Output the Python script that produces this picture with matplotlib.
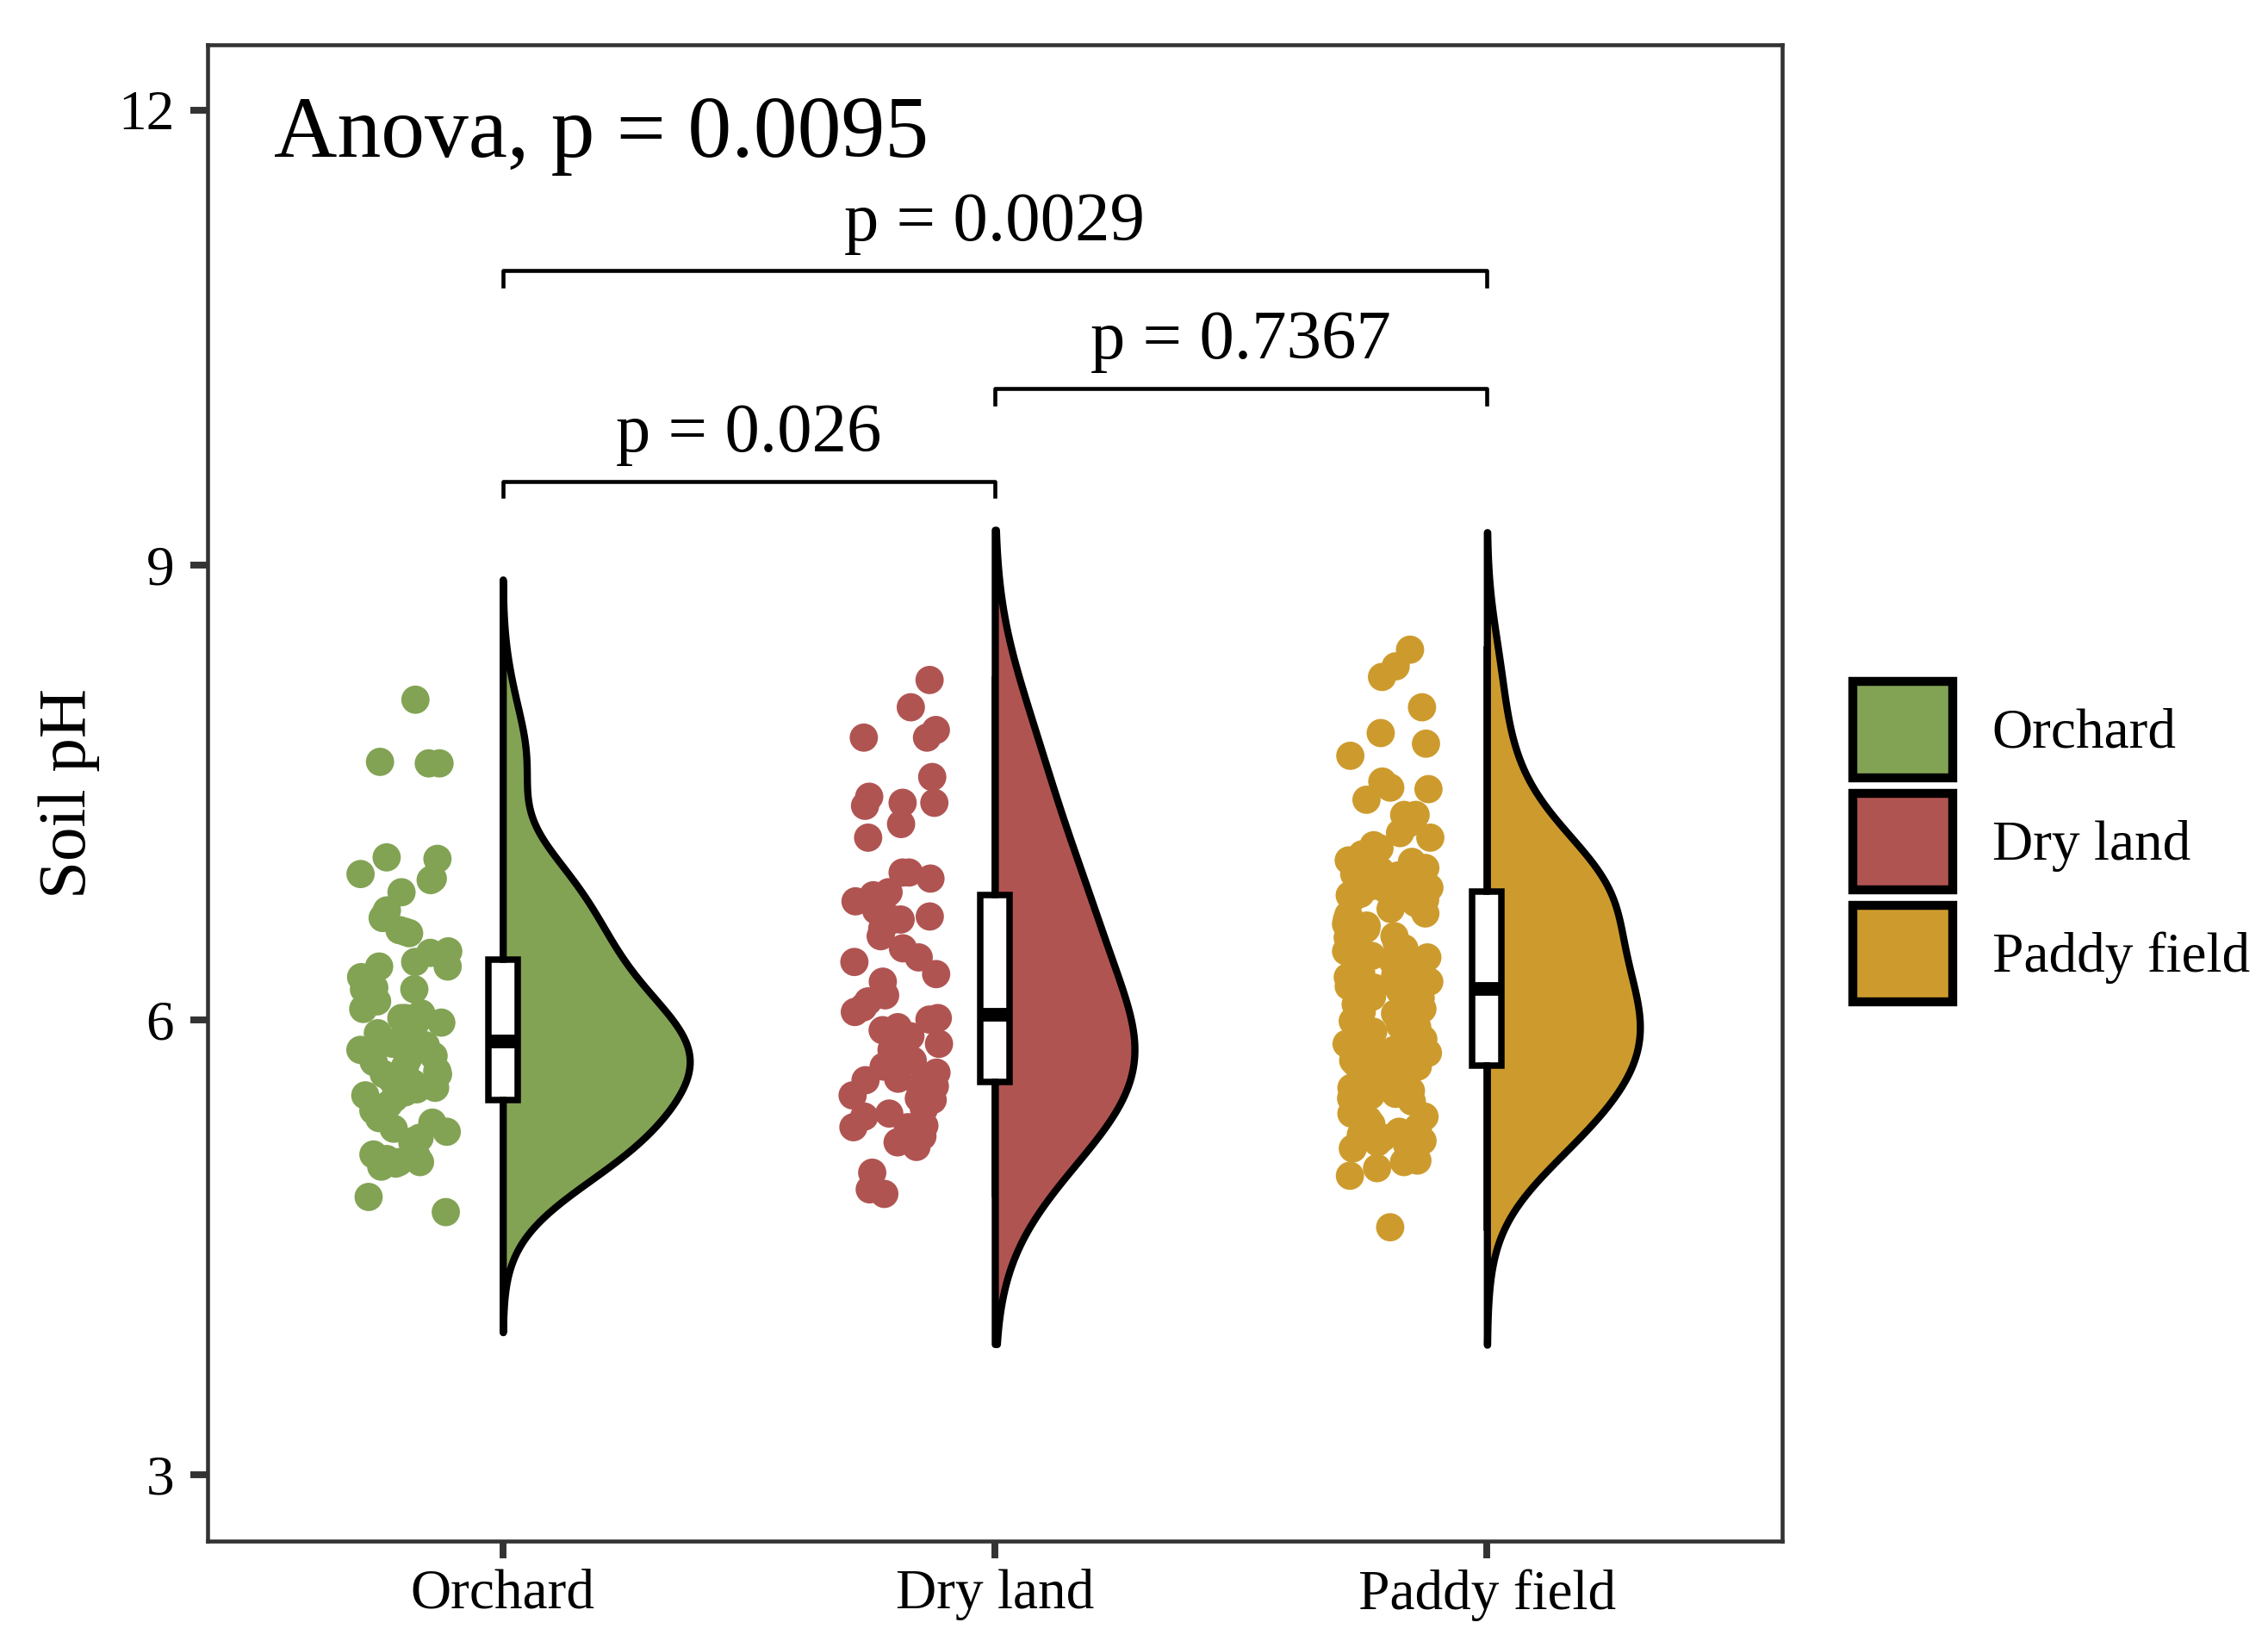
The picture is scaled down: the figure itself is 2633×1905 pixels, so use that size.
import matplotlib.pyplot as plt
import numpy as np
from matplotlib.patches import Patch

plt.rcParams['font.family'] = ['Liberation Serif', 'DejaVu Serif']

groups = ["Orchard", "Dry land", "Paddy field"]
colors = ["#82A354", "#B05452", "#CD9B2D"]

orchard_ph = [8.11, 7.69, 7.69, 7.70, 7.07, 7.06, 6.96, 6.93, 6.92, 6.84, 6.72, 6.69,
              6.67, 6.59, 6.58, 6.57, 6.45, 6.44,
              6.38, 6.35, 6.35, 6.21, 6.20, 6.20, 6.07, 6.01, 6.01, 5.98, 5.98, 5.94,
              5.88, 5.87, 6.28, 6.12, 6.04, 5.91,
              5.84, 5.80, 5.76, 5.72, 5.64, 5.64, 5.52, 5.55, 5.54, 5.83, 5.78, 5.74,
              5.69, 5.66, 5.60, 5.58, 5.50, 5.48,
              5.44, 5.40, 5.32, 5.28, 5.26, 5.19, 5.20, 5.10, 5.06, 5.11, 5.06, 5.03,
              5.05, 4.83, 4.73, 5.35, 5.22, 5.08]

dryland_ph = [8.24, 8.06, 7.86, 7.86, 7.91, 7.60, 7.43, 7.41, 7.47, 7.43, 7.29, 7.20,
              6.93, 6.97, 6.97, 6.82, 6.84, 6.82, 6.78, 6.68, 6.66, 6.66, 6.55,
              6.41, 6.38, 6.16, 6.05, 6.08, 6.01, 5.89, 5.90, 5.87, 6.00, 5.93, 5.72,
              5.73, 5.69, 5.61, 5.56, 5.47, 5.60, 5.56, 5.50, 5.48, 5.41, 5.36, 5.38,
              5.30, 5.29, 5.29, 5.23, 5.19, 5.16, 4.99, 4.88, 4.85,
              6.12, 6.25, 6.30, 6.47, 6.60, 6.72,
              5.65, 5.80, 5.84, 5.95, 5.76, 5.63]

paddy_ph = [8.44, 8.33, 8.26, 8.06, 7.89, 7.82, 7.74, 7.57, 7.53, 7.52, 7.45, 7.35,
            7.35, 7.29, 7.23, 7.20, 7.15, 7.13, 7.09,
            7.05, 7.02, 7.00, 6.98, 6.96, 6.95, 6.93, 6.91, 6.90, 6.88, 6.87, 6.86,
            6.85, 6.84, 6.83, 6.82, 6.98, 7.04, 6.90, 6.87,
            6.81, 6.79, 6.77, 6.74, 6.73, 6.70, 6.69, 6.66, 6.63, 6.62, 6.60, 6.57,
            6.55, 6.54, 6.51, 6.48, 6.47, 6.45, 6.42, 6.41, 6.39, 6.37, 6.34, 6.33,
            6.31, 6.29, 6.28, 6.26, 6.25, 6.23, 6.22, 6.21, 6.20, 6.20, 6.19,
            6.17, 6.15, 6.14, 6.12, 6.10, 6.09, 6.07, 6.05, 6.04, 6.02, 6.01, 5.99,
            5.98, 5.96, 5.95, 5.93, 5.92, 5.90, 5.88, 5.87, 5.85, 5.84, 5.82, 5.81,
            5.80, 5.78, 5.77, 5.76, 5.75, 5.74, 5.73, 5.72, 5.71, 5.70, 5.69,
            5.67, 5.65, 5.64, 5.62, 5.60, 5.58, 5.57, 5.55, 5.53, 5.51, 5.50, 5.48,
            5.46, 5.44, 5.42, 5.40, 5.38, 5.36, 5.34, 5.31, 5.29, 5.26, 5.24, 5.22,
            5.20, 5.19, 5.17, 5.15, 5.12, 5.10, 5.07, 5.06, 5.02, 4.97, 4.63]

data = [np.array(orchard_ph), np.array(dryland_ph), np.array(paddy_ph)]

anova_label = "Anova, p = 0.0095"
comparisons = [(1, 2, "p = 0.026"), (2, 3, "p = 0.7367"), (1, 3, "p = 0.0029")]
bracket_y = [9.55, 10.16, 10.94]

# smoothing factor per violin (range stays at +/- 3 rule-of-thumb bandwidths)
violin_adjust = [1.1, 1.5, 1.3]


def kde(vals, adjust):
    n = len(vals)
    q75, q25 = np.percentile(vals, [75, 25])
    bw = 0.9 * min(vals.std(ddof=1), (q75 - q25) / 1.34) * n ** -0.2
    grid = np.linspace(vals.min() - 3 * bw, vals.max() + 3 * bw, 512)
    h = bw * adjust
    d = np.exp(-0.5 * ((grid[:, None] - vals[None, :]) / h) ** 2).sum(1)
    d /= n * h * np.sqrt(2 * np.pi)
    return grid, d


fig = plt.figure(figsize=(2633 / 300, 1905 / 300), dpi=300)
ax = fig.add_axes([0.0915, 0.0609, 0.6943, 0.9118])

dens = [kde(v, a) for v, a in zip(data, violin_adjust)]
dmax = max(d.max() for _, d in dens)
rng = np.random.default_rng(7)

for i, (vals, col) in enumerate(zip(data, colors)):
    pos = i + 1
    grid, d = dens[i]
    ax.fill_betweenx(grid, pos, pos + d / dmax * 0.38, facecolor=col,
                     edgecolor='black', linewidth=2.0, joinstyle='round', zorder=2)
    jx = pos - 0.2 + rng.uniform(-0.09, 0.09, len(vals))
    ax.scatter(jx, vals, s=62, color=col, edgecolors='none', zorder=3)

ax.boxplot(data, positions=[1, 2, 3], widths=0.06, showfliers=False,
           showcaps=False, patch_artist=True,
           boxprops=dict(facecolor='white', edgecolor='black', linewidth=1.8),
           whiskerprops=dict(color='black', linewidth=1.8),
           medianprops=dict(color='black', linewidth=3.8, solid_capstyle='butt'),
           zorder=4)

for (a, b, lab), yb in zip(comparisons, bracket_y):
    ax.plot([a, a, b, b], [yb - 0.1, yb, yb, yb - 0.1], color='black', lw=1.1)
    ax.text((a + b) / 2, yb + 0.2, lab, ha='center', va='baseline', fontsize=19.4)

ax.text(0.535, 11.69, anova_label, ha='left', va='baseline', fontsize=24.4)

ax.set_xlim(0.4, 3.6)
ax.set_ylim(2.56, 12.43)
ax.set_xticks([1, 2, 3])
ax.set_xticklabels(groups)
ax.set_yticks([3, 6, 9, 12])
ax.tick_params(axis='both', length=4.8, width=1.9, color='#333333',
               labelsize=15.7, labelcolor='black')
ax.tick_params(axis='y', pad=4.5)
ax.tick_params(axis='x', pad=3)
for sp in ax.spines.values():
    sp.set_color('#333333')
    sp.set_linewidth(1.1)
ax.set_ylabel("Soil pH", fontsize=19, labelpad=5)

handles = [Patch(facecolor=c, edgecolor='black', linewidth=2.5) for c in colors]
fig.legend(handles, groups, loc='center left', bbox_to_anchor=(0.817, 0.487),
           frameon=False, fontsize=15.7, handlelength=1.77, handleheight=2.25,
           labelspacing=0.28, handletextpad=0.7, borderpad=0, borderaxespad=0)

fig.savefig('out.png', dpi=300)
